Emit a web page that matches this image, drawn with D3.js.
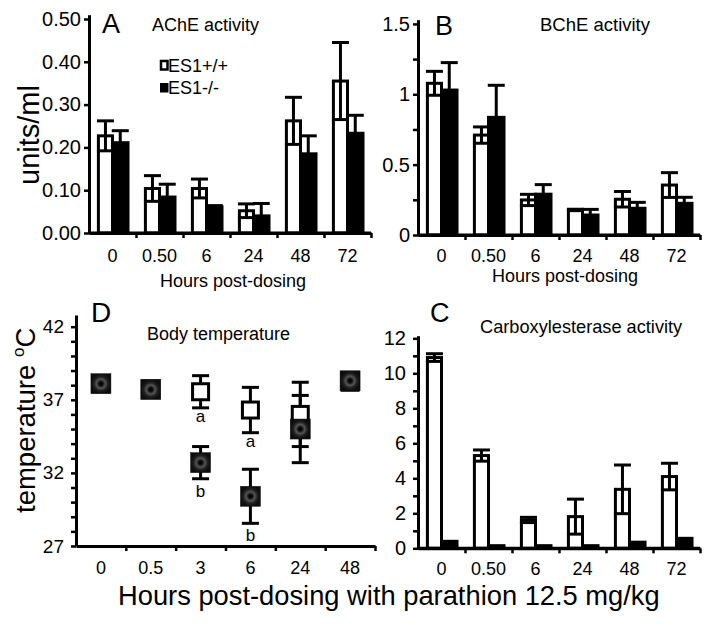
<!DOCTYPE html>
<html>
<head>
<meta charset="utf-8">
<script src="https://cdn.jsdelivr.net/npm/d3@7"></script>
<style>
  html, body { margin: 0; padding: 0; background: #fff; }
  svg { display: block; font-family: "Liberation Sans", Arial, sans-serif; }
</style>
</head>
<body>
<svg id="chart" width="714" height="624"></svg>
<script>
// ---------- DATA ----------
const hoursBars = ["0", "0.50", "6", "24", "48", "72"];
const hoursTemp = ["0", "0.5", "3", "6", "24", "48"];
const seriesNames = ["ES1+/+", "ES1-/-"];

// A: AChE activity (units/ml)
const acheWT    = [0.227, 0.104, 0.104, 0.052, 0.262, 0.355];
const acheWTErr = [0.035, 0.030, 0.022, 0.016, 0.055, 0.090];
const acheKO    = [0.211, 0.084, 0.061, 0.040, 0.185, 0.233];
const acheKOErr = [0.028, 0.030, 0.003, 0.029, 0.042, 0.042];
const acheTicks = [0, 0.1, 0.2, 0.3, 0.4, 0.5];

// B: BChE activity
const bcheWT    = [1.078, 0.710, 0.249, 0.178, 0.254, 0.355];
const bcheWTErr = [0.085, 0.058, 0.040, 0.005, 0.055, 0.088];
const bcheKO    = [1.030, 0.836, 0.290, 0.142, 0.190, 0.225];
const bcheKOErr = [0.195, 0.228, 0.068, 0.040, 0.042, 0.043];
const bcheTicks = [0, 0.25, 0.5, 0.75, 1, 1.25, 1.5];
const bcheLabels = [0, 0.5, 1, 1.5];

// C: Carboxylesterase activity
const cesWT    = [10.9, 5.3, 1.62, 1.81, 3.37, 4.10];
const cesWTErr = [0.22, 0.32, 0.15, 1.0, 1.39, 0.76];
const cesKO    = [0.40, 0.15, 0.15, 0.15, 0.35, 0.57];
const cesKOErr = [0, 0, 0, 0, 0, 0];
const cesTicks = [0,1,2,3,4,5,6,7,8,9,10,11,12];
const cesLabels = [0,2,4,6,8,10,12];

// D: Body temperature (°C)
const tempWT    = [38.1, 37.75, 37.55, 36.3, 36.0, 38.2];
const tempWTErr = [0.25, 0.25, 1.1, 1.55, 2.2, 0.25];
const tempKO    = [38.1, 37.7, 32.7, 30.4, 35.0, 38.3];
const tempKOErr = [0.25, 0.25, 1.1, 1.85, 2.3, 0.25];
const tempTicks = d3.range(27, 43, 1);
const tempLabels = [27, 32, 37, 42];
// significance letters: [hour, series(0=WT,1=KO), letter]
const tempNotes = [["3", 0, "a"], ["6", 0, "a"], ["3", 1, "b"], ["6", 1, "b"]];

// ---------- DRAW ----------
const svg = d3.select("#chart");
const defs = svg.append("defs");
const grad = defs.append("radialGradient").attr("id", "koMarker");
[[0, "#000"], [0.18, "#0a0a0a"], [0.45, "#555"], [0.7, "#202020"], [1, "#0d0d0d"]]
  .forEach(([o, c]) => grad.append("stop").attr("offset", o).attr("stop-color", c));

function styleAxis(g, w) {
  g.selectAll(".domain").attr("stroke", "#000").attr("stroke-width", w || 3);
  g.selectAll(".tick line").attr("stroke", "#000").attr("stroke-width", 2.5);
  g.selectAll("text").attr("fill", "#000").attr("font-family", "Liberation Sans, Arial, sans-serif");
}

function yAxis(y, x0, ticks, labels, fmt, fontSize, pad) {
  const g = svg.append("g").attr("transform", `translate(${x0},0)`)
    .call(d3.axisLeft(y).tickValues(ticks).tickSize(5).tickSizeOuter(0).tickPadding(pad)
      .tickFormat(d => labels.some(l => Math.abs(l - d) < 1e-9) ? fmt(d) : ""));
  styleAxis(g);
  g.selectAll("text").attr("font-size", fontSize);
  return g;
}

function xAxis(cats, x0, x1, yPos, labelY, fontSize) {
  const xb = d3.scaleLinear().domain([0, cats.length]).range([x0, x1]);
  const g = svg.append("g").attr("transform", `translate(0,${yPos})`)
    .call(d3.axisBottom(xb).tickValues(d3.range(1, cats.length + 1)).tickSize(5).tickSizeOuter(0).tickFormat(""));
  styleAxis(g);
  const band = d3.scaleBand().domain(cats).range([x0, x1]);
  const gl = svg.append("g").attr("transform", `translate(0,${yPos})`)
    .call(d3.axisBottom(band).tickSize(0).tickPadding(labelY));
  gl.select(".domain").remove();
  gl.selectAll("text").attr("font-size", fontSize).attr("fill", "#000")
    .attr("font-family", "Liberation Sans, Arial, sans-serif");
  return band;
}

function errBar(g, cx, yTop, yBot, capW) {
  g.append("line").attr("x1", cx).attr("x2", cx).attr("y1", yTop).attr("y2", yBot)
    .attr("stroke", "#000").attr("stroke-width", 3);
  [yTop, yBot].forEach(yy => g.append("line")
    .attr("x1", cx - capW / 2).attr("x2", cx + capW / 2).attr("y1", yy).attr("y2", yy)
    .attr("stroke", "#000").attr("stroke-width", 3));
}

function barPanel(o) {
  const y = d3.scaleLinear().domain([0, o.yMax]).range([o.yBase, o.yTop]);
  yAxis(y, o.x0, o.ticks, o.labels, o.fmt, o.yFont, o.yPad);
  const band = xAxis(hoursBars, o.x0, o.x1, o.yBase, o.xPad, o.xFont);
  const bw = band.bandwidth();
  const g = svg.append("g");
  const series = [
    { vals: o.wt, errs: o.wtErr, off: 0.2, w: 0.3, fill: "#fff" },
    { vals: o.ko, errs: o.koErr, off: 0.5, w: 0.33, fill: "#000" }
  ];
  series.forEach(s => {
    hoursBars.forEach((h, i) => {
      const bx = band(h) + bw * s.off, w = bw * s.w;
      g.append("rect").attr("x", bx).attr("width", w)
        .attr("y", y(s.vals[i])).attr("height", y(0) - y(s.vals[i]))
        .attr("fill", s.fill).attr("stroke", "#000").attr("stroke-width", 3);
    });
  });
  series.forEach(s => {
    hoursBars.forEach((h, i) => {
      if (!s.errs[i]) return;
      const cx = band(h) + bw * (s.off + s.w / 2);
      errBar(g, cx, y(s.vals[i] + s.errs[i]), y(s.vals[i] - s.errs[i]), 17);
    });
  });
  svg.append("line").attr("x1", o.x0).attr("x2", o.x1).attr("y1", o.yBase).attr("y2", o.yBase)
    .attr("stroke", "#000").attr("stroke-width", 3);
}

function txt(x, y, s, size, anchor) {
  return svg.append("text").attr("x", x).attr("y", y).attr("font-size", size)
    .attr("text-anchor", anchor || "start").attr("fill", "#000").text(s);
}

// Panel A
barPanel({ x0: 89, x1: 371, yBase: 233, yTop: 14.7, yMax: 0.51,
  ticks: acheTicks, labels: acheTicks, fmt: d3.format(".2f"), yFont: 20, yPad: 3,
  xPad: 16, xFont: 18,
  wt: acheWT, wtErr: acheWTErr, ko: acheKO, koErr: acheKOErr });
// Panel B
barPanel({ x0: 418, x1: 700, yBase: 235, yTop: 19.7, yMax: 1.53,
  ticks: bcheTicks, labels: bcheLabels, fmt: d => String(d), yFont: 20, yPad: 3,
  xPad: 14, xFont: 18,
  wt: bcheWT, wtErr: bcheWTErr, ko: bcheKO, koErr: bcheKOErr });
// Panel C
barPanel({ x0: 418, x1: 700, yBase: 548.3, yTop: 335.7, yMax: 12.15,
  ticks: cesTicks, labels: cesLabels, fmt: d => String(d), yFont: 20, yPad: 7,
  xPad: 14, xFont: 18,
  wt: cesWT, wtErr: cesWTErr, ko: cesKO, koErr: cesKOErr });

// Panel D
(function () {
  const x0 = 76, x1 = 375;
  const y = d3.scaleLinear().domain([27, 42.8]).range([546, 315]);
  yAxis(y, x0, tempTicks, tempLabels, d => String(d), 19, 7);
  const band = xAxis(hoursTemp, x0, x1, 546, 15, 18);
  const cx = h => band(h) + band.bandwidth() / 2;
  const g = svg.append("g");
  const sets = [
    { vals: tempWT, errs: tempWTErr },
    { vals: tempKO, errs: tempKOErr }
  ];
  sets.forEach(s => hoursTemp.forEach((h, i) =>
    errBar(g, cx(h), y(s.vals[i] + s.errs[i]), y(s.vals[i] - s.errs[i]), 17)));
  const m = 18;
  hoursTemp.forEach((h, i) => {
    g.append("rect").attr("x", cx(h) - m / 2 + 1).attr("y", y(tempWT[i]) - m / 2 + 1)
      .attr("width", m - 2).attr("height", m - 2)
      .attr("fill", "#fff").attr("stroke", "#000").attr("stroke-width", 3);
  });
  hoursTemp.forEach((h, i) => {
    g.append("rect").attr("x", cx(h) - m / 2 - 1).attr("y", y(tempKO[i]) - m / 2 - 1)
      .attr("width", m + 2).attr("height", m + 2)
      .attr("fill", "url(#koMarker)").attr("stroke", "#111").attr("stroke-width", 0.5);
  });
  tempNotes.forEach(([h, si, letter]) => {
    const vals = si === 0 ? tempWT : tempKO, errs = si === 0 ? tempWTErr : tempKOErr;
    const i = hoursTemp.indexOf(h);
    txt(cx(h), y(vals[i] - errs[i]) + (letter === "b" ? 18 : 14), letter, 17, "middle");
  });
})();

// Panel letters and titles
txt(102, 33, "A", 27);
txt(152, 31, "AChE activity", 18);
txt(435, 35, "B", 27);
txt(540, 31, "BChE activity", 18.5);
txt(430, 322, "C", 27);
txt(480, 333, "Carboxylesterase activity", 18.2);
txt(91, 322, "D", 28);
txt(147, 340, "Body temperature", 18);

// Legend
svg.append("rect").attr("x", 161).attr("y", 61).attr("width", 6.5).attr("height", 8.5)
  .attr("fill", "#fff").attr("stroke", "#000").attr("stroke-width", 2.5);
txt(168, 72, seriesNames[0], 18);
svg.append("rect").attr("x", 160).attr("y", 83).attr("width", 8.5).attr("height", 9.5).attr("fill", "#000");
txt(168, 94, seriesNames[1], 18);

// Axis titles
svg.append("text").attr("transform", "translate(39,135) rotate(-90)")
  .attr("text-anchor", "middle").attr("font-size", 29).attr("fill", "#000").text("units/ml");
const tt = svg.append("text").attr("transform", "translate(35,513) rotate(-90)")
  .attr("text-anchor", "start").attr("font-size", 27.5).attr("fill", "#000");
tt.append("tspan").text("temperature ");
tt.append("tspan").attr("font-size", 17).attr("dy", -11).text("o");
tt.append("tspan").attr("dy", 11).text("C");
txt(118, 605, "Hours post-dosing with parathion 12.5 mg/kg", 27.3);
txt(233, 287, "Hours post-dosing", 18, "middle");
txt(565, 282, "Hours post-dosing", 18, "middle");
</script>
</body>
</html>
